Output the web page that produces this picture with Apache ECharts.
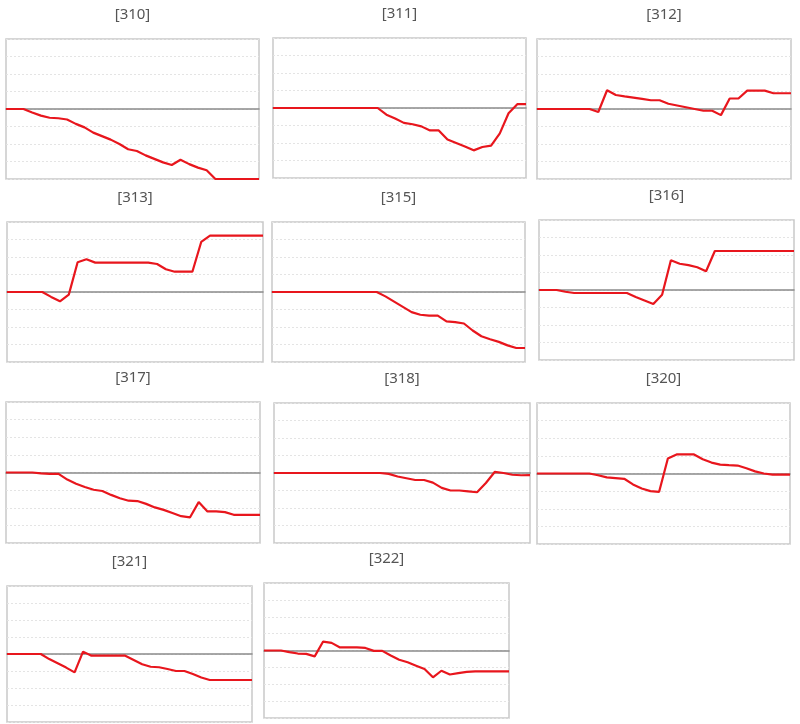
<!DOCTYPE html>
<html>
<head>
<meta charset="utf-8">
<script src="https://cdn.jsdelivr.net/npm/echarts@6/dist/echarts.min.js"></script>
<style>
html,body{margin:0;padding:0;background:#fff;}
#chart{width:800px;height:724px;}
</style>
</head>
<body>
<div id="chart"></div>
<script>
// ---- data ----
var categories = [];
for (var d = 1; d <= 30; d++) categories.push(String(d));
var panelNames = ['[310]','[311]','[312]','[313]','[315]','[316]','[317]','[318]','[320]','[321]','[322]'];
var yTicks = [-4,-3,-2,-1,0,1,2,3,4];

var s310 = [0,0,0,-0.2,-0.38,-0.5,-0.53,-0.6,-0.85,-1.05,-1.35,-1.55,-1.75,-2.0,-2.3,-2.4,-2.65,-2.85,-3.05,-3.2,-2.9,-3.15,-3.35,-3.5,-4,-4,-4,-4,-4,-4];
var s311 = [0,0,0,0,0,0,0,0,0,0,0,0,0,-0.38,-0.6,-0.85,-0.93,-1.05,-1.28,-1.28,-1.8,-2.0,-2.2,-2.42,-2.23,-2.15,-1.45,-0.3,0.22,0.22];
var s312 = [0,0,0,0,0,0,0,-0.17,1.07,0.8,0.72,0.65,0.58,0.5,0.5,0.3,0.2,0.1,0,-0.1,-0.1,-0.35,0.6,0.6,1.05,1.05,1.05,0.9,0.9,0.9];
var s313 = [0,0,0,0,0,-0.28,-0.53,-0.15,1.7,1.87,1.68,1.68,1.68,1.68,1.68,1.68,1.68,1.6,1.3,1.16,1.16,1.16,2.86,3.22,3.22,3.22,3.22,3.22,3.22,3.22];
var s315 = [0,0,0,0,0,0,0,0,0,0,0,0,0,-0.25,-0.55,-0.85,-1.15,-1.3,-1.35,-1.35,-1.68,-1.72,-1.8,-2.2,-2.53,-2.7,-2.85,-3.05,-3.2,-3.2];
var s316 = [0,0,0,-0.1,-0.17,-0.17,-0.17,-0.17,-0.17,-0.17,-0.17,-0.4,-0.6,-0.8,-0.27,1.7,1.5,1.42,1.3,1.07,2.23,2.23,2.23,2.23,2.23,2.23,2.23,2.23,2.23,2.23];
var s317 = [0,0,0,0,-0.05,-0.08,-0.08,-0.4,-0.64,-0.82,-0.98,-1.05,-1.27,-1.46,-1.6,-1.62,-1.78,-1.98,-2.12,-2.3,-2.48,-2.55,-1.68,-2.21,-2.21,-2.25,-2.4,-2.4,-2.4,-2.4];
var s318 = [0,0,0,0,0,0,0,0,0,0,0,0,0,-0.05,-0.2,-0.3,-0.4,-0.4,-0.55,-0.85,-1.0,-1.0,-1.05,-1.1,-0.57,0.06,0,-0.1,-0.13,-0.12];
var s320 = [0,0,0,0,0,0,0,-0.1,-0.22,-0.26,-0.3,-0.62,-0.85,-1.0,-1.04,0.85,1.08,1.08,1.08,0.81,0.62,0.5,0.47,0.45,0.3,0.12,0,-0.06,-0.06,-0.06];
var s321 = [0,0,0,0,0,-0.3,-0.55,-0.8,-1.08,0.14,-0.1,-0.1,-0.1,-0.1,-0.1,-0.35,-0.6,-0.75,-0.78,-0.88,-1.0,-1.0,-1.18,-1.38,-1.53,-1.53,-1.53,-1.53,-1.53,-1.53];
var s322 = [0,0,0,-0.1,-0.18,-0.2,-0.35,0.53,0.45,0.18,0.18,0.18,0.15,-0.02,-0.02,-0.3,-0.55,-0.7,-0.9,-1.1,-1.59,-1.2,-1.42,-1.34,-1.27,-1.24,-1.24,-1.24,-1.24,-1.24];

var seriesData = [s310,s311,s312,s313,s315,s316,s317,s318,s320,s321,s322];

// ---- layout ----
var boxes = [
  [6,39,253,140],[273,38,253,140],[537,39,254,140],
  [7,222,256,140],[272,222,253,140],[539,220,255,140],
  [6,402,254,141],[274,403,256,140],[537,403,253,141],
  [7,586,245,136],[264,583,245,135]
];

var grids = [], xAxes = [], yAxes = [], series = [], graphics = [];
boxes.forEach(function (b, i) {
  grids.push({left:b[0], top:b[1], width:b[2], height:b[3], show:true,
    borderColor:'#c9c9c9', borderWidth:1.5, backgroundColor:'#fff', containLabel:false});
  xAxes.push({type:'category', gridIndex:i, data:categories, boundaryGap:false,
    axisLine:{show:true, onZero:true, lineStyle:{color:'#8a8a8a', width:1.5}},
    axisTick:{show:false}, axisLabel:{show:false}, splitLine:{show:false}, z:3});
  yAxes.push({type:'value', gridIndex:i, min:yTicks[0], max:yTicks[yTicks.length-1], interval:1,
    axisLine:{show:false}, axisTick:{show:false}, axisLabel:{show:false},
    splitLine:{show:true, lineStyle:{color:'#e4e4e4', type:[2,2], width:1}}});
  series.push({type:'line', xAxisIndex:i, yAxisIndex:i, data:seriesData[i],
    symbol:'none', smooth:false, clip:false, z:5,
    lineStyle:{color:'#e8161d', width:2.2}, animation:false});
  graphics.push({type:'text', x:b[0] + b[2]/2, y:b[1] - 24,
    style:{text:panelNames[i], textAlign:'center', textVerticalAlign:'middle',
      fill:'#555', font:'15px "Noto Sans", sans-serif'}});
});

var chart = echarts.init(document.getElementById('chart'), null, {renderer:'canvas'});
chart.setOption({
  backgroundColor:'#fff',
  animation:false,
  grid:grids, xAxis:xAxes, yAxis:yAxes, series:series,
  graphic:graphics
});
</script>
</body>
</html>
